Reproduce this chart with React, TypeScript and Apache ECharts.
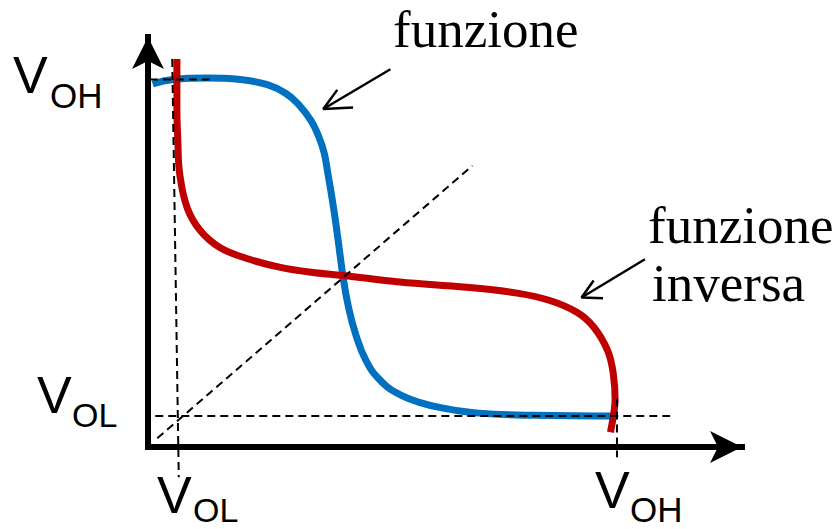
import React, { useEffect, useRef } from "react";
import * as echarts from "echarts";

// Curve data in axis units (x: input voltage, y: output voltage)
const blueCurve: [number, number][] = [
  [0.05, 4.93], [0.27, 4.99], [0.63, 5.01], [0.99, 4.99], [1.28, 4.92], [1.48, 4.80],
  [1.63, 4.63], [1.75, 4.43], [1.83, 4.22], [1.888, 4.00], [1.93, 3.71], [1.99, 3.25],
  [2.04, 2.80], [2.09, 2.33], [2.15, 1.90], [2.23, 1.52], [2.34, 1.17], [2.48, 0.92],
  [2.66, 0.74], [2.90, 0.61], [3.20, 0.52], [3.55, 0.46], [4.13, 0.43], [5.03, 0.42],
];

const redCurve: [number, number][] = [
  [0.31, 5.27], [0.31, 4.61], [0.32, 4.16], [0.34, 3.71], [0.42, 3.25], [0.56, 2.94],
  [0.77, 2.71], [1.06, 2.56], [1.42, 2.44], [1.77, 2.37], [2.09, 2.33], [2.70, 2.24],
  [3.42, 2.17], [3.96, 2.09], [4.31, 1.99], [4.60, 1.83], [4.78, 1.63], [4.93, 1.31],
  [4.99, 1.00], [5.01, 0.64], [4.99, 0.41], [4.96, 0.20],
];

// Reference (dashed) lines
const diagonalLine: [number, number][] = [[0.10, 0.12], [3.48, 3.82]];
const volHorizontal: [number, number][] = [[-0.34, 0.42], [5.60, 0.42]];
const vohHorizontal: [number, number][] = [[-0.12, 4.99], [0.70, 4.99]];
const volVertical: [number, number][] = [[0.26, 5.27], [0.33, -0.41]];
const vohVertical: [number, number][] = [[5.03, 0.66], [5.03, -0.14]];

// Annotation arrows
const arrowFunzioneShaft: [number, number][] = [[2.60, 5.13], [1.88, 4.59]];
const arrowFunzioneHead: [number, number][] = [[2.03, 4.85], [1.88, 4.59], [2.20, 4.61]];
const arrowInversaShaft: [number, number][] = [[5.33, 2.55], [4.65, 2.03]];
const arrowInversaHead: [number, number][] = [[4.78, 2.26], [4.65, 2.03], [4.88, 2.02]];

const X_MAX = 6.371;
const Y_MAX = 5.568;

const SANS = '"Liberation Sans", Arial, sans-serif';
const SERIF = '"Liberation Serif", "Times New Roman", serif';

function dashed(data: [number, number][]) {
  return {
    type: "line",
    data,
    symbol: "none",
    clip: false,
    silent: true,
    z: 5,
    lineStyle: { color: "#000", width: 2, type: [8, 5] },
  };
}

function solid(data: [number, number][], color: string, width: number, z: number, smooth: number | boolean = false) {
  return {
    type: "line",
    data,
    symbol: "none",
    clip: false,
    silent: true,
    smooth,
    z,
    lineStyle: { color, width },
  };
}

function label(text: string, x: number, y: number, size: number, family: string) {
  return {
    type: "text",
    x,
    y,
    silent: true,
    style: {
      text,
      fontSize: size,
      fontFamily: family,
      lineHeight: Math.round(size * 0.8),
      fill: "#000",
      align: "left",
      verticalAlign: "middle",
    },
  };
}

export default function App() {
  const ref = useRef<HTMLDivElement>(null);
  useEffect(() => {
    const chart = echarts.init(ref.current!, null, { renderer: "svg" });
    const axisCommon = {
      type: "value",
      min: 0,
      splitLine: { show: false },
      axisTick: { show: false },
      axisLabel: { show: false },
      axisLine: {
        show: true,
        onZero: false,
        symbol: ["none", "arrow"],
        symbolSize: [24, 32],
        lineStyle: { color: "#000", width: 6, cap: "square" },
      },
    };
    chart.setOption({
      animation: false,
      backgroundColor: "#fff",
      grid: { left: 148, top: 37, width: 594, height: 410 },
      xAxis: { ...axisCommon, max: X_MAX },
      yAxis: { ...axisCommon, max: Y_MAX },
      series: [
        solid(blueCurve, "#0070C0", 7, 3, 0.45),
        solid(redCurve, "#C00000", 7, 4, 0.4),
        dashed(diagonalLine),
        dashed(volHorizontal),
        dashed(vohHorizontal),
        dashed(volVertical),
        dashed(vohVertical),
        solid(arrowFunzioneShaft, "#000", 2.5, 6),
        solid(arrowFunzioneHead, "#000", 2.5, 6),
        solid(arrowInversaShaft, "#000", 2.5, 6),
        solid(arrowInversaHead, "#000", 2.5, 6),
      ],
      graphic: [
        label("V", 13, 75, 52, SANS),
        label("OH", 50, 95, 35, SANS),
        label("V", 37, 395, 52, SANS),
        label("OL", 72, 415, 34, SANS),
        label("V", 157, 495, 52, SANS),
        label("OL", 193, 510, 34, SANS),
        label("V", 595, 490, 52, SANS),
        label("OH", 630, 509, 35, SANS),
        label("funzione", 393, 29, 53, SERIF),
        label("funzione", 648, 225, 53, SERIF),
        label("inversa", 652, 283, 53, SERIF),
      ],
    });
    return () => chart.dispose();
  }, []);
  return (
    <div
      ref={ref}
      style={{ position: "absolute", left: 0, top: 0, width: 835, height: 529, background: "#fff" }}
    />
  );
}
